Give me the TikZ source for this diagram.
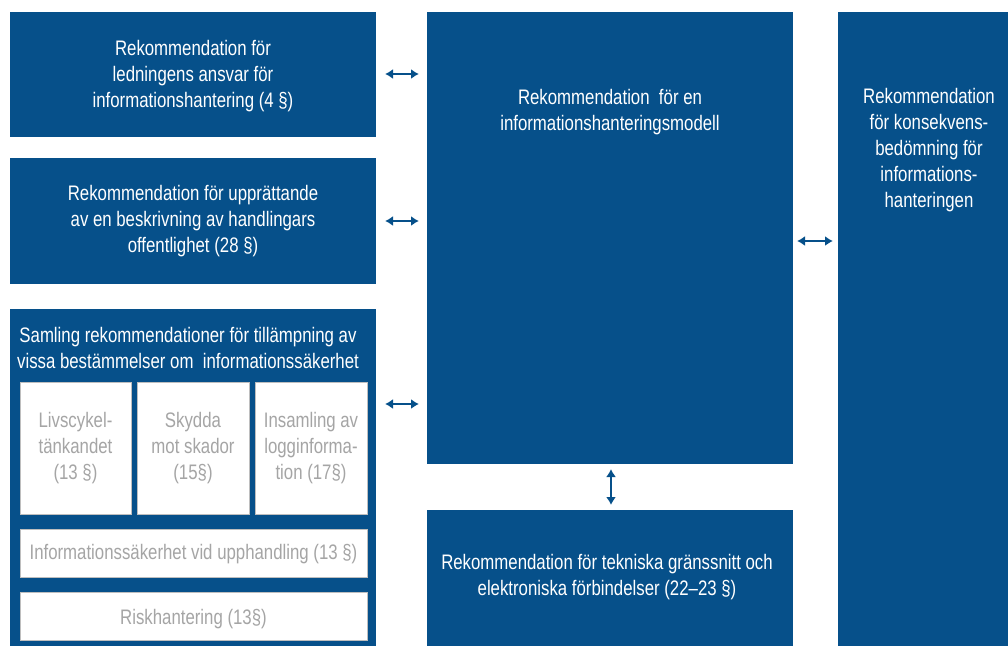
\documentclass[tikz,border=0pt]{standalone}
\usepackage{fontspec}
\setmainfont[FakeStretch=0.8]{Liberation Sans}
\usetikzlibrary{arrows.meta}
\definecolor{mainblue}{RGB}{6,80,138}
\definecolor{inngray}{RGB}{165,165,165}
\definecolor{bordgray}{RGB}{190,190,190}
\begin{document}
\begin{tikzpicture}[x=1pt,y=-1pt,
  bluebox/.style={fill=mainblue,draw=none},
  btext/.style={text=white,font=\fontsize{21}{26}\selectfont,align=center,inner sep=0pt},
  wbox/.style={fill=white,draw=bordgray,line width=1pt},
  gtext/.style={text=inngray,font=\fontsize{21}{26}\selectfont,align=center,inner sep=0pt},
  link/.style={draw=mainblue,line width=2.8pt,{Latex[length=8pt,width=10pt]}-{Latex[length=8pt,width=10pt]}}]
\useasboundingbox (0,0) rectangle (1008,646);
% blue boxes
\path[bluebox] (10,12) rectangle (376,137);
\path[bluebox] (10,158) rectangle (376,284);
\path[bluebox] (10,309) rectangle (376,646);
\path[bluebox] (427,12) rectangle (793,464);
\path[bluebox] (427,510) rectangle (793,646);
\path[bluebox] (838,12) rectangle (1008,646);
% inner boxes
\path[wbox] (20,382) rectangle (131,514);
\path[wbox] (137,382) rectangle (249,514);
\path[wbox] (255,382) rectangle (367,514);
\path[wbox] (20,529) rectangle (367,577);
\path[wbox] (20,592) rectangle (367,640);
% texts
\node[btext] (t1) at (193,76) {Rekommendation för\\ledningens ansvar för\\informationshantering (4 §)};
\node[btext] (t2) at (193,221) {Rekommendation för upprättande\\av en beskrivning av handlingars\\offentlighet (28 §)};
\node[btext] (t3) at (188,348) {Samling rekommendationer för tillämpning av\\vissa bestämmelser om\ \ informationssäkerhet};
\node[btext] (t4) at (610,112) {Rekommendation\ \ för en\\informationshanteringsmodell};
\node[btext] (t5) at (929,150) {Rekommendation\\för konsekvens-\\bedömning för\\informations-\\hanteringen};
\node[btext] (t6) at (607,577) {Rekommendation för tekniska gränssnitt och\\elektroniska förbindelser (22–23 §)};
\node[gtext] (g1) at (75.5,448) {Livscykel-\\tänkandet\\(13 §)};
\node[gtext] (g2) at (193,448) {Skydda\\mot skador\\(15§)};
\node[gtext] (g3) at (311,448) {Insamling av\\logginforma-\\tion (17§)};
\node[gtext] (g4) at (193.5,554) {Informationssäkerhet vid upphandling (13 §)};
\node[gtext] (g5) at (193.5,619) {Riskhantering (13§)};
% arrows
\coordinate (a1l) at (385,74); \coordinate (a1r) at (419,74);
\coordinate (a2l) at (385,221); \coordinate (a2r) at (419,221);
\coordinate (a3l) at (385,404); \coordinate (a3r) at (419,404);
\coordinate (a4l) at (797,241); \coordinate (a4r) at (833,241);
\coordinate (a5t) at (611,469); \coordinate (a5b) at (611,505);
\draw[link] (a1l) -- (a1r);
\draw[link] (a2l) -- (a2r);
\draw[link] (a3l) -- (a3r);
\draw[link] (a4l) -- (a4r);
\draw[link] (a5t) -- (a5b);
\end{tikzpicture}
\end{document}
